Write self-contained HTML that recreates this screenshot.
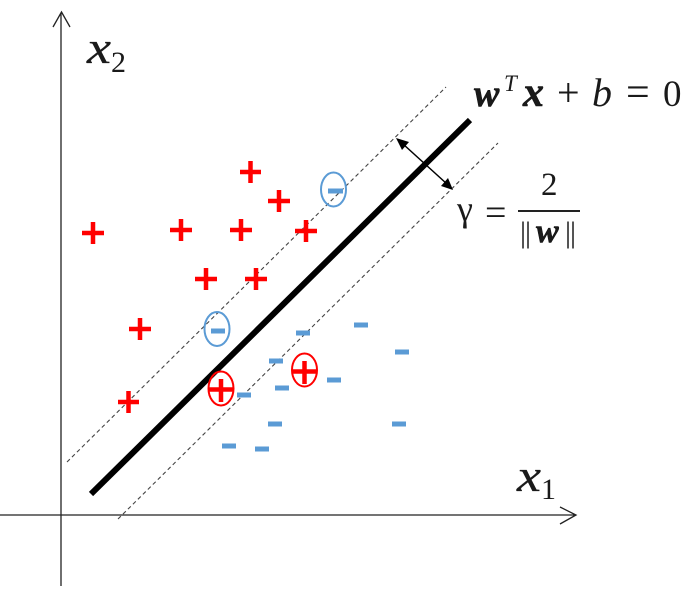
<!DOCTYPE html>
<html>
<head>
<meta charset="utf-8">
<style>
html,body{margin:0;padding:0;background:#fff}
svg{display:block}
text{font-family:"Liberation Serif",serif;fill:#1a1a1a}
.t{stroke:#1a1a1a;stroke-width:.3px}
.b{stroke:#111;stroke-width:.6px}
</style>
</head>
<body>
<svg width="693" height="591" viewBox="0 0 693 591" xmlns="http://www.w3.org/2000/svg">
<g fill="none" stroke="#222" stroke-width="1.3">
<path d="M61 586V13M53 27L61.500 12L70 27"/>
<path d="M0 515H575M560 507L576 515L560 524"/>
</g>
<g stroke="#444" stroke-width="1.1" stroke-dasharray="4 3" fill="none">
<path d="M67 462L446 87"/>
<path d="M118 519L498 143"/>
</g>
<path d="M91 494L470 120" stroke="#000" stroke-width="6"/>
<path d="M403 144L447 184" stroke="#000" stroke-width="1.5"/>
<path d="M396 138L409 142L402 150Z" fill="#000"/>
<path d="M453 190L441 186L448 178Z" fill="#000"/>

<g stroke="#f00" stroke-width="4.500" fill="none">
<path d="M240 172H261M250.500 161V183"/>
<path d="M268 201H290M279 190V212"/>
<path d="M82 233H104M93 222V244"/>
<path d="M170 230H192M181 219V241"/>
<path d="M230 230H252M241 219V241"/>
<path d="M295 231H317M306 220V242"/>
<path d="M195 279H217M206 268V290"/>
<path d="M245 279H267M256 268V290"/>
<path d="M129 329H151M140 318V340"/>
<path d="M118 402H139M128.500 391V413"/>
<path d="M209 389.500H233M221 379V402"/>
<path d="M292 371.500H316M304.500 361V384"/>
</g>
<g stroke="#f00" stroke-width="2" fill="none">
<ellipse cx="221" cy="388.500" rx="12.500" ry="17"/>
<ellipse cx="304.500" cy="370" rx="12.500" ry="16.500"/>
</g>

<g stroke="#5b9bd5" stroke-width="2" fill="none">
<ellipse cx="333.500" cy="189.500" rx="12.500" ry="17"/>
<ellipse cx="217" cy="329" rx="12.500" ry="17"/>
</g>
<g stroke="#5b9bd5" stroke-width="5" stroke-linecap="butt" fill="none">
<path d="M328 191H343"/>
<path d="M211 331H225"/>
<path d="M354 325H368"/>
<path d="M296 333H310"/>
<path d="M395 352H409"/>
<path d="M269 361H283"/>
<path d="M327 380H341"/>
<path d="M275 388H289"/>
<path d="M237 395H251"/>
<path d="M268 424H282"/>
<path d="M392 424H406"/>
<path d="M222 446H236"/>
<path d="M255 449H269"/>
</g>

<text class="t" x="87" y="63" font-size="46" font-style="italic" textLength="24" lengthAdjust="spacingAndGlyphs">x</text>
<text x="111" y="72" font-size="30">2</text>
<text class="t" x="517" y="491" font-size="46" font-style="italic" textLength="24" lengthAdjust="spacingAndGlyphs">x</text>
<text x="541" y="499" font-size="30">1</text>

<text class="b" x="474" y="106" font-size="38" font-style="italic" font-weight="bold">w</text>
<text x="504" y="91" font-size="23" font-style="italic">T</text>
<text class="b" x="523" y="106" font-size="42" font-style="italic" font-weight="bold">x</text>
<text x="557" y="106" font-size="40">+</text>
<text x="592" y="106" font-size="40" font-style="italic">b</text>
<text x="626" y="106" font-size="42">=</text>
<text x="663" y="106" font-size="37">0</text>

<text x="457" y="221" font-size="36">γ</text>
<text x="485" y="225" font-size="38">=</text>
<text x="541" y="195" font-size="33">2</text>
<rect x="518" y="210" width="62" height="2" fill="#222"/>
<text x="520" y="242" font-size="30" letter-spacing="-1">||</text>
<text class="b" x="536" y="242" font-size="34" font-style="italic" font-weight="bold">w</text>
<text x="565" y="242" font-size="30" letter-spacing="-1">||</text>
</svg>
</body>
</html>
